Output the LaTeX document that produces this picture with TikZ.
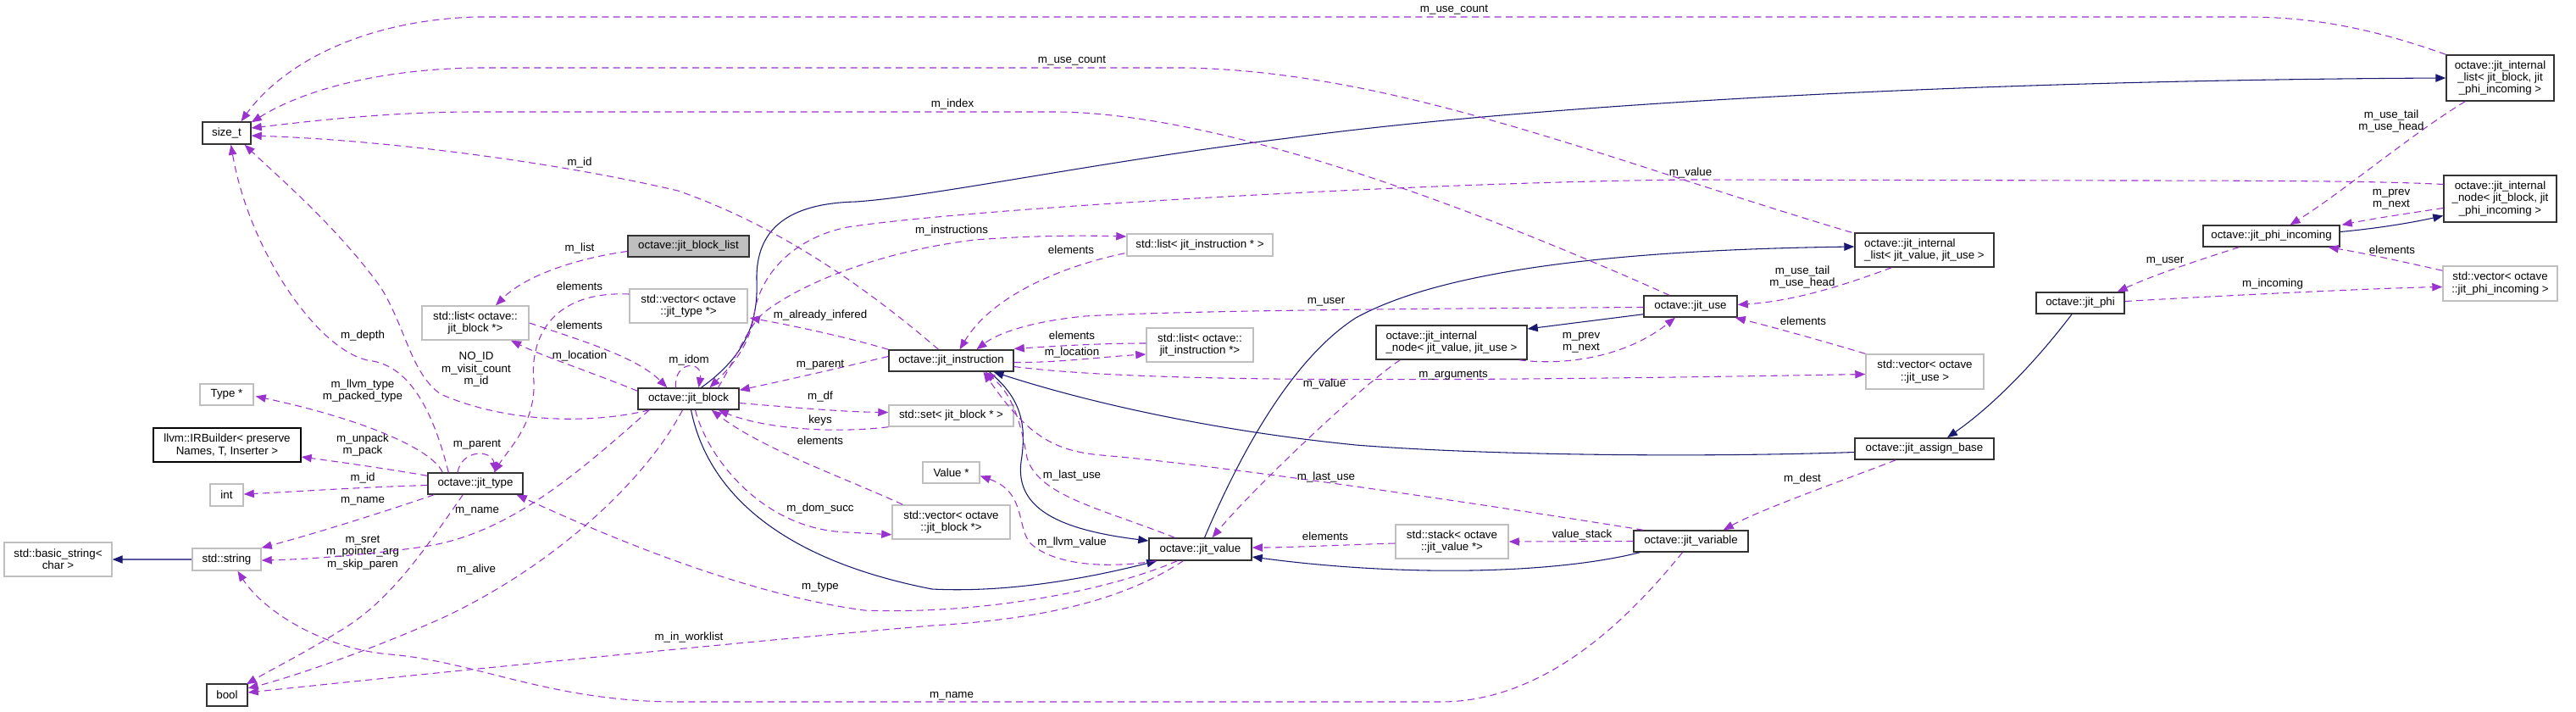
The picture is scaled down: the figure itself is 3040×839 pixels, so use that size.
\documentclass[tikz,border=0pt]{standalone}
\usepackage{fontspec}
\setmainfont{Liberation Sans}
\usetikzlibrary{arrows.meta,calc}
\definecolor{depc}{HTML}{9A32CD}
\definecolor{inhc}{HTML}{191970}
\definecolor{lgray}{HTML}{BFBFBF}
\definecolor{dgray}{HTML}{333333}
\definecolor{selgray}{HTML}{BFBFBF}
\definecolor{strc}{HTML}{5A5A9E}
\begin{document}
\begin{tikzpicture}[x=0.75pt,y=-0.75pt,
  font=\fontsize{10}{10.8}\selectfont,
  box/.style={draw=dgray, line width=1.1pt, fill=white, inner sep=1pt, align=center},
  ubox/.style={draw=lgray, line width=1.1pt, fill=white, inner sep=1pt, align=center},
  depl/.style={draw=depc, line width=0.8pt, dash pattern=on 6pt off 4pt, -{Triangle[length=9pt,width=7pt]}},
  inhl/.style={draw=inhc, line width=0.8pt, -{Triangle[length=9pt,width=7pt]}},
  lab/.style={inner sep=0pt, align=center},
]
\useasboundingbox[fill=white] (0,0) rectangle (3040,839);

% ---------- nodes ----------
\node[box, minimum width=57*0.75pt, minimum height=26*0.75pt] (sizet) at (267.5,157) {size\_t};
\node[box, fill=selgray, minimum width=143*0.75pt, minimum height=25*0.75pt] (blocklist) at (812.5,290.5) {octave::jit\_block\_list};
\node[ubox, minimum width=139*0.75pt, minimum height=40*0.75pt] (vectype) at (812.5,361) {std::vector< octave\\::jit\_type *>};
\node[ubox, minimum width=126*0.75pt, minimum height=40*0.75pt] (listblock) at (561,381) {std::list< octave::\\jit\_block *>};
\node[ubox, minimum width=172*0.75pt, minimum height=26*0.75pt] (listinstr) at (1416,289) {std::list< jit\_instruction * >};
\node[ubox, minimum width=126*0.75pt, minimum height=40*0.75pt] (listoinstr) at (1416,407) {std::list< octave::\\jit\_instruction *>};
\node[box, minimum width=147*0.75pt, minimum height=25*0.75pt] (instr) at (1122.5,425.5) {octave::jit\_instruction};
\node[box, align=left, minimum width=178*0.75pt, minimum height=40*0.75pt] (inodeVU) at (1713,404) {octave::jit\_internal\\\_node< jit\_value, jit\_use >};
\node[box, minimum width=110*0.75pt, minimum height=25*0.75pt] (use) at (1995,361.5) {octave::jit\_use};
\node[box, align=left, minimum width=164*0.75pt, minimum height=40*0.75pt] (ilistVU) at (2271,295) {octave::jit\_internal\\\_list< jit\_value, jit\_use >};
\node[box, minimum width=104*0.75pt, minimum height=25*0.75pt] (phi) at (2455,357.5) {octave::jit\_phi};
\node[ubox, minimum width=139*0.75pt, minimum height=41*0.75pt] (vecuse) at (2271.5,438.5) {std::vector< octave\\::jit\_use >};
\node[box, minimum width=164*0.75pt, minimum height=25*0.75pt] (assign) at (2271,529.5) {octave::jit\_assign\_base};
\node[box, minimum width=127*0.75pt, minimum height=54*0.75pt] (ilistBP) at (2950.5,92) {octave::jit\_internal\\\_list< jit\_block, jit\\\_phi\_incoming >};
\node[box, minimum width=133*0.75pt, minimum height=55*0.75pt] (inodeBP) at (2950.5,234.5) {octave::jit\_internal\\\_node< jit\_block, jit\\\_phi\_incoming >};
\node[box, minimum width=161*0.75pt, minimum height=25*0.75pt] (phiinc) at (2680.5,278.5) {octave::jit\_phi\_incoming};
\node[ubox, minimum width=135*0.75pt, minimum height=41*0.75pt] (vecphiinc) at (2950.5,334.5) {std::vector< octave\\::jit\_phi\_incoming >};
\node[ubox, minimum width=63*0.75pt, minimum height=25*0.75pt] (typeptr) at (267.5,465.5) {Type *};
\node[box, draw=black, minimum width=174*0.75pt, minimum height=40*0.75pt] (irb) at (268,525) {llvm::IRBuilder< preserve\\Names, T, Inserter >};
\node[ubox, minimum width=39*0.75pt, minimum height=26*0.75pt] (int) at (267.5,584) {int};
\node[ubox, minimum width=127*0.75pt, minimum height=40*0.75pt] (basicstr) at (68.5,660) {std::basic\_string<\\char >};
\node[ubox, minimum width=81*0.75pt, minimum height=26*0.75pt] (string) at (267.5,660) {std::string};
\node[box, minimum width=48*0.75pt, minimum height=26*0.75pt] (bool) at (268,820) {bool};
\node[box, minimum width=112*0.75pt, minimum height=25*0.75pt] (jtype) at (561,570.5) {octave::jit\_type};
\node[box, minimum width=119*0.75pt, minimum height=25*0.75pt] (block) at (812.5,470.5) {octave::jit\_block};
\node[ubox, minimum width=147*0.75pt, minimum height=25*0.75pt] (setblock) at (1122.5,490.5) {std::set< jit\_block * >};
\node[ubox, minimum width=67*0.75pt, minimum height=25*0.75pt] (valueptr) at (1122.5,557.5) {Value *};
\node[ubox, minimum width=139*0.75pt, minimum height=40*0.75pt] (vecblock) at (1122.5,616) {std::vector< octave\\::jit\_block *>};
\node[box, minimum width=121*0.75pt, minimum height=26*0.75pt] (value) at (1416.5,648) {octave::jit\_value};
\node[ubox, minimum width=133*0.75pt, minimum height=40*0.75pt] (stack) at (1713.5,639) {std::stack< octave\\::jit\_value *>};
\node[box, minimum width=135*0.75pt, minimum height=25*0.75pt] (variable) at (1995.5,638.5) {octave::jit\_variable};

% ---------- inheritance (solid) ----------
\draw[inhl] ($(block.north)+(15,0)$) .. controls (880,420) and (895,380) .. (893,330) .. controls (892,270) and (930,240) .. (1010,238) .. controls (1100,232) and (1300,190) .. (1520,163) .. controls (1800,125) and (2300,95) .. (ilistBP.west);
\draw[inhl] ($(block.south)+(3,0)$) .. controls (835,580) and (920,660) .. (1100,695) .. controls (1200,700) and (1300,678) .. ($(value.south west)+(10,0)$);
\draw[inhl] ($(instr.south)+(45,0)$) .. controls (1205,470) and (1212,500) .. (1205,545) .. controls (1198,600) and (1250,625) .. ($(value.west)+(0,-10)$);
\draw[inhl] ($(assign.west)+(0,4)$) .. controls (2000,540) and (1750,537) .. (1600,525) .. controls (1450,510) and (1300,480) .. ($(instr.south)+(50,0)$);
\draw[inhl] ($(phi.south)+(-10,0)$) .. controls (2400,430) and (2350,480) .. ($(assign.north)+(27,0)$);
\draw[inhl] ($(variable.south west)+(8,0)$) .. controls (1830,678) and (1650,680) .. ($(value.east)+(0,9)$);
\draw[inhl] ($(value.north)+(5,0)$) .. controls (1470,520) and (1530,420) .. (1600,375) .. controls (1700,320) and (1900,295) .. ($(ilistVU.west)+(0,-4)$);
\draw[inhl] ($(use.south west)+(0,-4)$) -- ($(inodeVU.east)+(0,-16)$);
\draw[inhl] ($(phiinc.east)+(0,-5)$) .. controls (2800,270) and (2840,264) .. ($(inodeBP.west)+(0,20)$);
\draw[inhl, draw=strc, -{Triangle[length=9pt,width=7pt,fill=inhc,color=inhc]}] (string.west) -- (basicstr.east);

% ---------- usage (dashed) ----------
\draw[depl] (ilistBP.north west) .. controls (2790,30) and (2720,20) .. (2650,20) -- (560,20) .. controls (420,25) and (330,80) .. ($(sizet.north)+(17,0)$);
\node[lab] (l1) at (1716,12) {m\_use\_count};
\draw[depl] ($(ilistVU.north west)+(-3,0)$) .. controls (1900,190) and (1650,85) .. (1400,80) -- (560,80) .. controls (450,82) and (360,105) .. ($(sizet.north east)+(0,1)$);
\node[lab] (l2) at (1265,72) {m\_use\_count};
\draw[depl] ($(use.north)+(-25,0)$) .. controls (1750,250) and (1450,135) .. (1250,132) -- (560,132) .. controls (450,132) and (350,145) .. ($(sizet.east)+(0,-6)$);
\node[lab] (l3) at (1124,123) {m\_index};
\draw[depl] ($(instr.north)+(-15,0)$) .. controls (1000,320) and (900,260) .. (800,225) .. controls (650,190) and (450,165) .. ($(sizet.east)+(0,3)$);
\node[lab] (l4) at (684,192) {m\_id};
\draw[depl] ($(jtype.north west)+(25,0)$) .. controls (515,500) and (490,435) .. (440,426) .. controls (380,420) and (295,300) .. ($(sizet.south)+(5,0)$);
\node[lab] (l5) at (428,396) {m\_depth};
\draw[depl] ($(block.south west)+(14,0)$) .. controls (700,500) and (600,500) .. (520,465) .. controls (485,440) and (480,390) .. (450,340) .. controls (400,270) and (330,210) .. ($(sizet.south east)+(-8,0)$);
\node[lab] (l6) at (562,436) {NO\_ID\\m\_visit\_count\\m\_id};
\draw[depl] ($(blocklist.west)+(0,6)$) .. controls (680,305) and (620,325) .. ($(listblock.north)+(24,0)$);
\node[lab] (l7) at (684,293) {m\_list};
\draw[depl] ($(vectype.west)+(0,-14)$) .. controls (650,343) and (625,400) .. (630,450) .. controls (632,500) and (600,530) .. ($(jtype.north)+(22,0)$);
\node[lab] (l8) at (684,338) {elements};
\draw[depl] (listblock.east) .. controls (680,400) and (750,420) .. ($(block.north west)+(35,0)$);
\node[lab] (l9) at (684,384) {elements};
\draw[depl] ($(block.north west)+(0,4)$) .. controls (700,440) and (640,420) .. ($(listblock.south)+(42,0)$);
\node[lab] (l10) at (684,420) {m\_location};
\draw[depl] ($(block.north)+(-15,0)$) .. controls (795,425) and (830,425) .. ($(block.north)+(12,0)$);
\node[lab] (l11) at (813,425) {m\_idom};
\draw[depl] ($(instr.west)+(0,-5)$) .. controls (1000,432) and (930,448) .. ($(block.north east)+(0,3)$);
\node[lab] (l12) at (968,431) {m\_parent};
\draw[depl] ($(block.east)+(0,5)$) .. controls (950,482) and (1000,486) .. ($(setblock.west)+(0,-4)$);
\node[lab] (l13) at (968,468) {m\_df};
\draw[depl] (setblock.south west) .. controls (980,512) and (900,505) .. ($(block.south east)+(-25,0)$);
\node[lab] (l14) at (968,496) {keys};
\draw[depl] ($(vecblock.north west)+(13,0)$) .. controls (1000,565) and (900,530) .. ($(block.south east)+(-33,0)$);
\node[lab] (l15) at (968,520) {elements};
\draw[depl] ($(block.south)+(8,0)$) .. controls (835,540) and (900,625) .. (1000,628) -- ($(vecblock.south west)+(0,-6)$);
\node[lab] (l16) at (968,600) {m\_dom\_succ};
\draw[depl] ($(block.north)+(35,0)$) .. controls (870,420) and (880,390) .. (900,370) .. controls (950,330) and (1050,295) .. (1150,283) .. controls (1230,277) and (1290,278) .. ($(listinstr.west)+(0,-10)$);
\node[lab] (l17) at (1123,272) {m\_instructions};
\draw[depl] ($(listinstr.south west)+(-2,-4)$) .. controls (1250,315) and (1170,350) .. ($(instr.north)+(10,0)$);
\node[lab] (l18) at (1264,295) {elements};
\draw[depl] ($(inodeBP.west)+(0,-17)$) .. controls (2820,214) and (2700,213) .. (2500,213) -- (2000,212) .. controls (1700,214) and (1150,245) .. (1000,268) .. controls (940,280) and (898,320) .. (890,370) .. controls (885,410) and (860,435) .. ($(block.north)+(25,0)$);
\node[lab] (l19) at (1995,204) {m\_value};
\draw[depl] (instr.north west) .. controls (1000,398) and (940,385) .. ($(vectype.east)+(2,14)$);
\node[lab] (l20) at (968,372) {m\_already\_infered};
\draw[depl] ($(use.west)+(0,1)$) .. controls (1700,364) and (1400,366) .. (1280,373) .. controls (1210,380) and (1175,395) .. ($(instr.north)+(30,0)$);
\node[lab] (l21) at (1565,356) {m\_user};
\draw[depl] ($(listoinstr.west)+(0,-2)$) .. controls (1300,405) and (1250,408) .. ($(instr.east)+(0,-14)$);
\node[lab] (l22) at (1265,396) {elements};
\draw[depl] ($(instr.east)+(0,2)$) .. controls (1250,428) and (1300,421) .. ($(listoinstr.west)+(0,11)$);
\node[lab] (l23) at (1265,416) {m\_location};
\draw[depl] ($(instr.east)+(0,7)$) .. controls (1350,452) and (1700,450) .. ($(vecuse.west)+(0,3)$);
\node[lab] (l24) at (1715,443) {m\_arguments};
\draw[depl] (vecuse.north west) .. controls (2150,402) and (2100,388) .. ($(use.south east)+(-3,0)$);
\node[lab] (l25) at (2128,379) {elements};
\draw[depl] ($(ilistVU.south west)+(44,0)$) .. controls (2180,335) and (2120,355) .. ($(use.east)+(0,-2)$);
\node[lab] (l26) at (2127,327) {m\_use\_tail\\m\_use\_head};
\draw[depl] ($(inodeVU.south east)+(-10,0)$) .. controls (1850,432) and (1920,420) .. ($(use.south)+(-18,0)$);
\node[lab] (l27) at (1866,404) {m\_prev\\m\_next};
\draw[depl] ($(inodeVU.south west)+(29,0)$) .. controls (1610,452) and (1480,575) .. ($(value.north)+(14,0)$);
\node[lab] (l28) at (1563,453) {m\_value};
\draw[depl] ($(ilistBP.south west)+(23,0)$) .. controls (2850,155) and (2760,230) .. ($(phiinc.north)+(22,0)$);
\node[lab] (l29) at (2822,143) {m\_use\_tail\\m\_use\_head};
\draw[depl] ($(inodeBP.west)+(0,11)$) .. controls (2840,252) and (2800,258) .. ($(phiinc.north east)+(2,0)$);
\node[lab] (l30) at (2822,235) {m\_prev\\m\_next};
\draw[depl] ($(vecphiinc.north west)+(0,6)$) .. controls (2820,305) and (2780,297) .. ($(phiinc.south east)+(-14,0)$);
\node[lab] (l31) at (2823,295) {elements};
\draw[depl] ($(phi.east)+(0,-2)$) .. controls (2600,350) and (2800,340) .. ($(vecphiinc.west)+(0,4)$);
\node[lab] (l32) at (2682,335) {m\_incoming};
\draw[depl] ($(phiinc.south west)+(43,0)$) .. controls (2600,305) and (2540,325) .. ($(phi.north east)+(-9,0)$);
\node[lab] (l33) at (2555,308) {m\_user};
\draw[depl] ($(assign.south west)+(49,0)$) .. controls (2180,565) and (2080,600) .. ($(variable.north east)+(-30,0)$);
\node[lab] (l34) at (2127,565) {m\_dest};
\draw[depl] (variable.west) -- (stack.east);
\node[lab] (l35) at (1867,631) {value\_stack};
\draw[depl] ($(stack.west)+(0,2)$) .. controls (1580,643) and (1520,646) .. ($(value.east)+(0,-2)$);
\node[lab] (l36) at (1564,633) {elements};
\draw[depl] ($(value.north west)+(31,0)$) .. controls (1300,600) and (1225,585) .. (1212,540) .. controls (1205,500) and (1195,465) .. ($(instr.south)+(40,0)$);
\node[lab] (l37) at (1265,561) {m\_last\_use};
\draw[depl] ($(variable.north west)+(12,0)$) .. controls (1750,595) and (1450,550) .. (1300,537) .. controls (1240,532) and (1210,510) .. ($(instr.south)+(38,0)$);
\node[lab] (l38) at (1565,563) {m\_last\_use};
\draw[depl] ($(value.south west)+(9,0)$) .. controls (1300,672) and (1240,665) .. (1215,640) .. controls (1200,620) and (1210,580) .. ($(valueptr.east)+(0,4)$);
\node[lab] (l39) at (1265,640) {m\_llvm\_value};
\draw[depl] ($(variable.south)+(-10,0)$) .. controls (1930,720) and (1830,828) .. (1700,828) -- (800,828) .. controls (650,828) and (560,780) .. (460,772) .. controls (380,765) and (310,720) .. ($(string.south)+(13,0)$);
\node[lab] (l40) at (1123,821) {m\_name};
\draw[depl] ($(value.south west)+(34,0)$) .. controls (1300,700) and (1150,725) .. (1020,720) .. controls (870,700) and (700,625) .. ($(jtype.south east)+(-8,0)$);
\node[lab] (l41) at (968,693) {m\_type};
\draw[depl] ($(value.south west)+(41,0)$) .. controls (1330,705) and (1240,730) .. (1100,738) .. controls (900,755) and (500,795) .. ($(bool.east)+(0,-3)$);
\node[lab] (l42) at (813,752) {m\_in\_worklist};
\draw[depl] ($(block.south)+(-7,0)$) .. controls (760,570) and (650,670) .. (520,730) .. controls (430,770) and (340,800) .. ($(bool.east)+(0,-8)$);
\node[lab] (l43) at (562,672) {m\_alive};
\draw[depl] ($(jtype.south west)+(42,0)$) .. controls (500,650) and (460,710) .. (400,745) .. controls (360,770) and (320,790) .. ($(bool.north east)+(-2,1)$);
\node[lab] (l44) at (428,652) {m\_sret\\m\_pointer\_arg\\m\_skip\_paren};
\draw[depl] ($(block.south west)+(14,0)$) .. controls (680,560) and (600,630) .. (500,645) .. controls (430,655) and (360,660) .. ($(string.east)+(0,1)$);
\node[lab] (l45) at (563,603) {m\_name};
\draw[depl] ($(jtype.south west)+(8,0)$) .. controls (450,605) and (370,630) .. (string.north east);
\node[lab] (l46) at (428,591) {m\_name};
\draw[depl] ($(jtype.west)+(0,2)$) .. controls (420,575) and (350,580) .. ($(int.east)+(0,-1)$);
\node[lab] (l47) at (428,564) {m\_id};
\draw[depl] ($(jtype.north west)+(0,4)$) .. controls (450,552) and (400,545) .. ($(irb.east)+(0,14)$);
\node[lab] (l48) at (428,525) {m\_unpack\\m\_pack};
\draw[depl] ($(jtype.north west)+(18,0)$) .. controls (510,530) and (430,495) .. ($(typeptr.east)+(2,2)$);
\node[lab] (l49) at (428,461) {m\_llvm\_type\\m\_packed\_type};
\draw[depl] ($(jtype.north)+(-21,0)$) .. controls (545,530) and (580,530) .. ($(jtype.north)+(24,0)$);
\node[lab] (l50) at (563,525) {m\_parent};
\end{tikzpicture}
\end{document}
